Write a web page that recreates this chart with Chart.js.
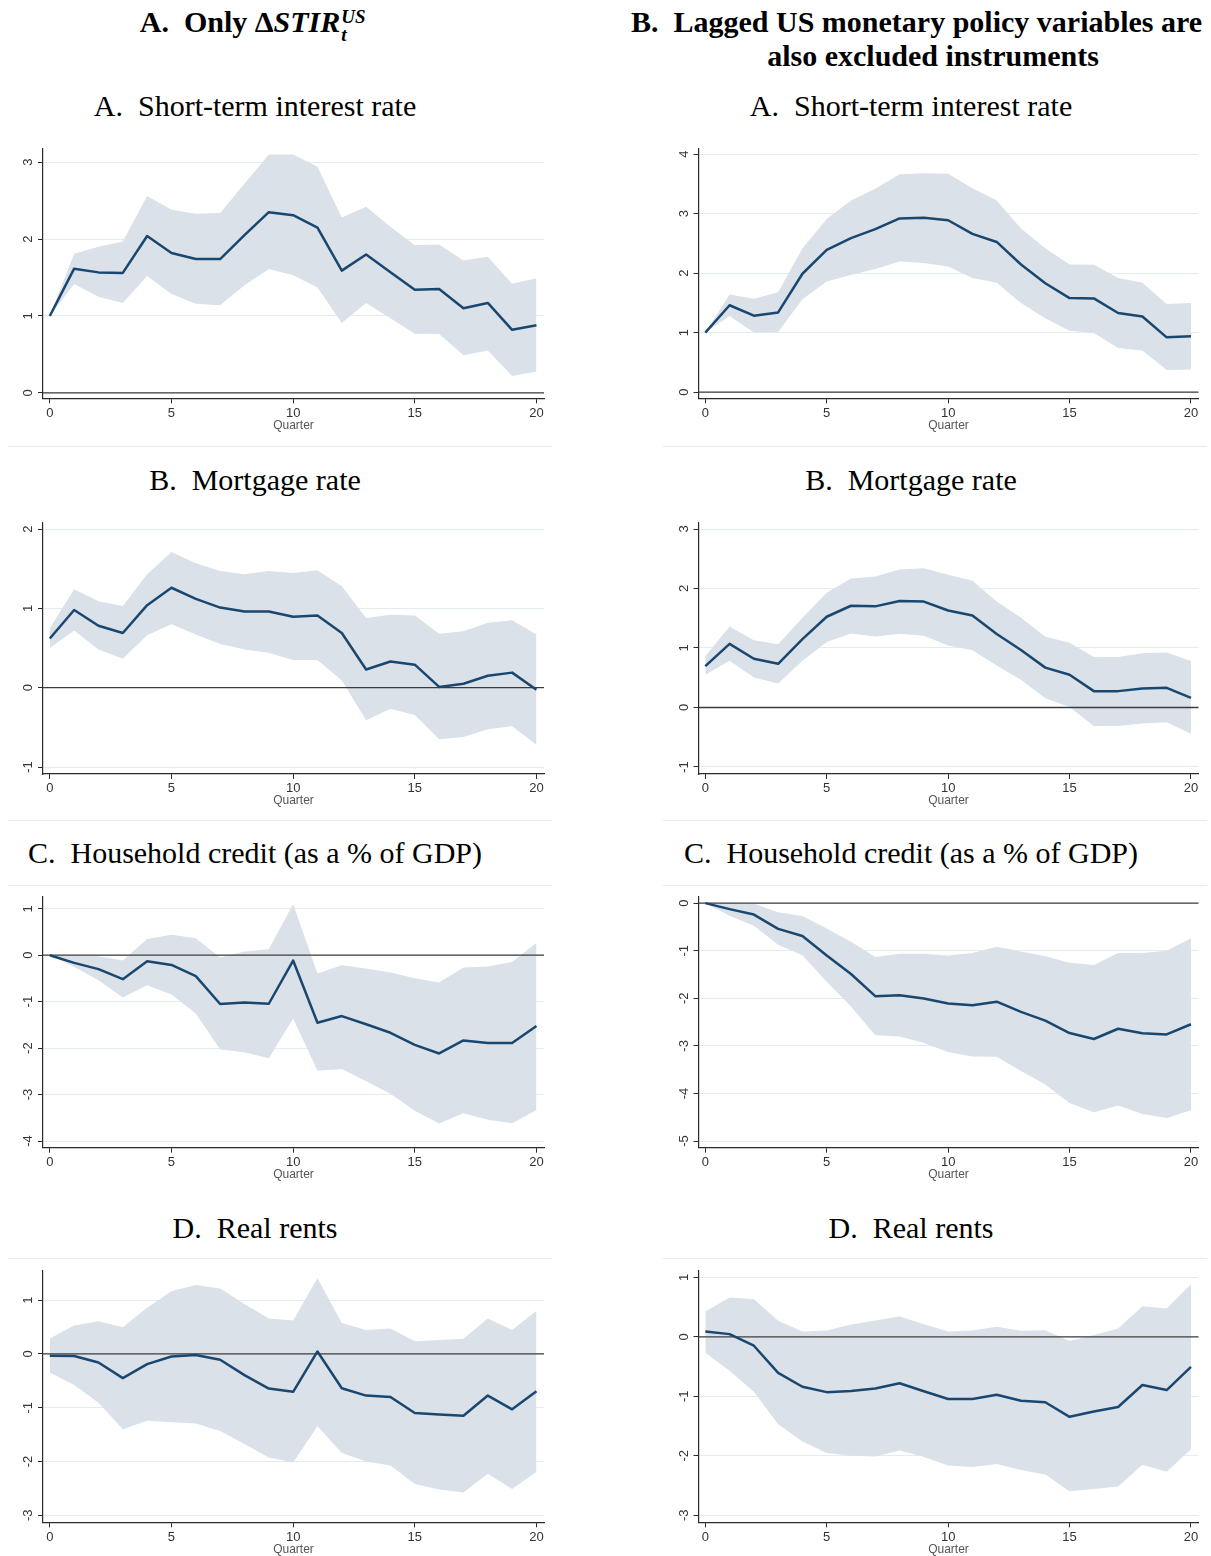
<!DOCTYPE html>
<html>
<head>
<meta charset="utf-8">
<script src="https://cdn.jsdelivr.net/npm/chart.js@4.4.1/dist/chart.umd.min.js"></script>
<style>
  html, body { margin: 0; padding: 0; background: #fff; }
  #page { position: relative; width: 1211px; height: 1556px; overflow: hidden;
          font-family: "Liberation Serif", "Times New Roman", serif; color: #000; }
  .ttl { position: absolute; width: 560px; text-align: center; font-size: 30px;
         line-height: 34px; white-space: nowrap; }
  .hdr { font-weight: bold; }
  .math { font-style: italic; font-weight: bold; }
  .ss { display: inline-block; position: relative; width: 30px; height: 10px; }
  .ss span { position: absolute; left: 1px; font-size: 19px; line-height: 17px;
             font-style: italic; font-weight: bold; }
  .ss .up { bottom: 7px; }
  .ss .dn { top: 4px; }
  canvas { position: absolute; }
  .frame { position: absolute; height: 0; border-top: 1px solid #e4ebf0; }
</style>
</head>
<body>
<div id="page">
  <div class="ttl hdr" style="left:-25px; top:5px;">A.&nbsp; Only Δ<span class="math">STIR</span><span class="ss"><span class="up">US</span><span class="dn">t</span></span></div>
  <div class="ttl hdr" style="left:631px; top:5px;">B.&nbsp; Lagged US monetary policy variables are</div>
  <div class="ttl hdr" style="left:653px; top:39px;">also excluded instruments</div>

  <div class="ttl" style="left:-25px; top:89px;">A.&nbsp; Short-term interest rate</div>
  <div class="ttl" style="left:631px; top:89px;">A.&nbsp; Short-term interest rate</div>
  <div class="ttl" style="left:-25px; top:463px;">B.&nbsp; Mortgage rate</div>
  <div class="ttl" style="left:631px; top:463px;">B.&nbsp; Mortgage rate</div>
  <div class="ttl" style="left:-25px; top:836px;">C.&nbsp; Household credit (as a % of GDP)</div>
  <div class="ttl" style="left:631px; top:836px;">C.&nbsp; Household credit (as a % of GDP)</div>
  <div class="ttl" style="left:-25px; top:1211px;">D.&nbsp; Real rents</div>
  <div class="ttl" style="left:631px; top:1211px;">D.&nbsp; Real rents</div>

  <div class="frame" style="left:8px; width:544px; top:446px;"></div>
  <div class="frame" style="left:663px; width:544px; top:446px;"></div>
  <div class="frame" style="left:8px; width:544px; top:820px;"></div>
  <div class="frame" style="left:663px; width:544px; top:820px;"></div>
  <div class="frame" style="left:8px; width:544px; top:885px;"></div>
  <div class="frame" style="left:663px; width:544px; top:885px;"></div>
  <div class="frame" style="left:8px; width:544px; top:1258px;"></div>
  <div class="frame" style="left:663px; width:544px; top:1258px;"></div>
</div>

<script>
// Horizon (quarters after the shock) and x-axis ticks
const quarters = [0, 1, 2, 3, 4, 5, 6, 7, 8, 9, 10, 11, 12, 13, 14, 15, 16, 17, 18, 19, 20];
const xTicks = [0, 5, 10, 15, 20];

// Column A: only ΔSTIR as instrument
const onlyStirMid = [1.00, 1.615, 1.567, 1.56, 2.04, 1.82, 1.74, 1.74, 2.05, 2.35, 2.31, 2.15, 1.59, 1.80, 1.57, 1.34, 1.35, 1.10, 1.17, 0.82, 0.88];
const onlyStirHi  = [1.00, 1.81, 1.90, 1.97, 2.56, 2.38, 2.33, 2.34, 2.72, 3.10, 3.10, 2.94, 2.28, 2.42, 2.16, 1.92, 1.93, 1.72, 1.77, 1.42, 1.49];
const onlyStirLo  = [1.00, 1.415, 1.25, 1.17, 1.52, 1.285, 1.16, 1.14, 1.40, 1.61, 1.53, 1.37, 0.91, 1.17, 0.97, 0.77, 0.765, 0.49, 0.55, 0.22, 0.28];

const onlyMortMid = [0.62, 0.98, 0.78, 0.69, 1.04, 1.26, 1.12, 1.01, 0.96, 0.96, 0.895, 0.91, 0.69, 0.23, 0.33, 0.29, 0.01, 0.05, 0.15, 0.19, -0.025];
const onlyMortHi  = [0.75, 1.24, 1.09, 1.03, 1.43, 1.71, 1.57, 1.47, 1.43, 1.47, 1.445, 1.48, 1.28, 0.88, 0.92, 0.91, 0.68, 0.71, 0.82, 0.85, 0.67];
const onlyMortLo  = [0.50, 0.72, 0.48, 0.365, 0.66, 0.80, 0.67, 0.55, 0.48, 0.44, 0.35, 0.35, 0.09, -0.41, -0.265, -0.345, -0.65, -0.62, -0.525, -0.485, -0.72];

const onlyCreditMid = [0, -0.165, -0.30, -0.515, -0.13, -0.21, -0.45, -1.05, -1.02, -1.045, -0.115, -1.455, -1.31, -1.485, -1.67, -1.93, -2.115, -1.835, -1.89, -1.89, -1.525];
const onlyCreditHi  = [0, 0.0, -0.02, -0.115, 0.35, 0.44, 0.365, -0.05, 0.08, 0.13, 1.10, -0.395, -0.215, -0.285, -0.37, -0.495, -0.59, -0.265, -0.245, -0.145, 0.27];
const onlyCreditLo  = [0, -0.25, -0.54, -0.91, -0.645, -0.845, -1.255, -2.03, -2.09, -2.22, -1.36, -2.49, -2.45, -2.715, -2.98, -3.35, -3.625, -3.40, -3.54, -3.62, -3.33];

const onlyRentMid = [-0.035, -0.04, -0.16, -0.45, -0.19, -0.05, -0.02, -0.11, -0.395, -0.645, -0.705, 0.045, -0.64, -0.775, -0.80, -1.10, -1.125, -1.15, -0.775, -1.03, -0.695];
const onlyRentHi  = [0.285, 0.525, 0.605, 0.495, 0.855, 1.165, 1.28, 1.215, 0.925, 0.655, 0.62, 1.405, 0.575, 0.445, 0.47, 0.235, 0.26, 0.28, 0.655, 0.445, 0.80];
const onlyRentLo  = [-0.345, -0.58, -0.91, -1.40, -1.245, -1.27, -1.295, -1.435, -1.675, -1.925, -2.02, -1.345, -1.84, -2.0, -2.075, -2.42, -2.52, -2.575, -2.23, -2.51, -2.19];

// Column B: lagged US monetary policy variables also excluded
const laggedStirMid = [1.00, 1.46, 1.285, 1.34, 1.99, 2.39, 2.59, 2.74, 2.92, 2.93, 2.89, 2.66, 2.525, 2.145, 1.83, 1.58, 1.575, 1.33, 1.27, 0.92, 0.94];
const laggedStirHi  = [1.00, 1.64, 1.57, 1.68, 2.42, 2.91, 3.22, 3.42, 3.665, 3.68, 3.67, 3.43, 3.22, 2.75, 2.42, 2.145, 2.14, 1.92, 1.84, 1.48, 1.50];
const laggedStirLo  = [1.00, 1.28, 1.00, 1.01, 1.56, 1.86, 1.97, 2.07, 2.195, 2.17, 2.11, 1.92, 1.84, 1.50, 1.24, 1.03, 0.995, 0.74, 0.70, 0.37, 0.38];

const laggedMortMid = [0.695, 1.07, 0.82, 0.735, 1.15, 1.525, 1.71, 1.70, 1.79, 1.78, 1.63, 1.545, 1.235, 0.965, 0.67, 0.55, 0.275, 0.275, 0.32, 0.33, 0.16];
const laggedMortHi  = [0.86, 1.36, 1.13, 1.065, 1.51, 1.93, 2.17, 2.20, 2.32, 2.34, 2.23, 2.13, 1.78, 1.51, 1.19, 1.09, 0.85, 0.85, 0.91, 0.925, 0.78];
const laggedMortLo  = [0.55, 0.785, 0.505, 0.405, 0.785, 1.10, 1.245, 1.195, 1.24, 1.205, 1.04, 0.96, 0.705, 0.465, 0.155, 0.01, -0.31, -0.31, -0.27, -0.25, -0.44];

const laggedCreditMid = [0, -0.125, -0.24, -0.54, -0.69, -1.10, -1.49, -1.955, -1.935, -2.005, -2.11, -2.145, -2.07, -2.285, -2.47, -2.73, -2.855, -2.64, -2.735, -2.76, -2.545];
const laggedCreditHi  = [0, 0.0, -0.01, -0.19, -0.27, -0.53, -0.81, -1.13, -1.065, -1.065, -1.10, -1.05, -0.915, -1.015, -1.115, -1.25, -1.30, -1.045, -1.045, -1.00, -0.735];
const laggedCreditLo  = [0, -0.265, -0.475, -0.875, -1.095, -1.65, -2.17, -2.775, -2.805, -2.94, -3.13, -3.225, -3.23, -3.53, -3.81, -4.20, -4.395, -4.255, -4.43, -4.515, -4.355];

const laggedRentMid = [0.09, 0.045, -0.15, -0.605, -0.84, -0.93, -0.91, -0.87, -0.78, -0.915, -1.045, -1.045, -0.975, -1.075, -1.10, -1.345, -1.255, -1.18, -0.81, -0.895, -0.505];
const laggedRentHi  = [0.425, 0.66, 0.63, 0.27, 0.09, 0.105, 0.205, 0.275, 0.34, 0.21, 0.09, 0.105, 0.17, 0.10, 0.11, -0.07, 0.03, 0.14, 0.515, 0.475, 0.885];
const laggedRentLo  = [-0.27, -0.57, -0.925, -1.47, -1.76, -1.955, -2.0, -2.01, -1.91, -2.02, -2.165, -2.19, -2.14, -2.24, -2.315, -2.595, -2.56, -2.515, -2.15, -2.27, -1.89];

// y-axis tick labels per panel
const onlyStirTicks     = [0, 1, 2, 3];
const laggedStirTicks   = [0, 1, 2, 3, 4];
const onlyMortTicks     = [-1, 0, 1, 2];
const laggedMortTicks   = [-1, 0, 1, 2, 3];
const onlyCreditTicks   = [-4, -3, -2, -1, 0, 1];
const laggedCreditTicks = [-5, -4, -3, -2, -1, 0];
const onlyRentTicks     = [-3, -2, -1, 0, 1];
const laggedRentTicks   = [-3, -2, -1, 0, 1];

// Page layout of the eight graphs (pixels)
const columns = [
  { left: 0,   axisX: 43,    right: 544 },
  { left: 655, axisX: 698.5, right: 1198.5 }
];
const rows = [
  { top: 148.3, axisY: 398.3 },
  { top: 522.7, axisY: 774 },
  { top: 896.5, axisY: 1147.7 },
  { top: 1271,  axisY: 1522.3 }
];

const panels = [
  { col: 0, row: 0, mid: onlyStirMid,   hi: onlyStirHi,   lo: onlyStirLo,   ticks: onlyStirTicks,   yMin: -0.07,  yMax: 3.18 },
  { col: 1, row: 0, mid: laggedStirMid, hi: laggedStirHi, lo: laggedStirLo, ticks: laggedStirTicks, yMin: -0.105, yMax: 4.10 },
  { col: 0, row: 1, mid: onlyMortMid,   hi: onlyMortHi,   lo: onlyMortLo,   ticks: onlyMortTicks,   yMin: -1.088, yMax: 2.08 },
  { col: 1, row: 1, mid: laggedMortMid, hi: laggedMortHi, lo: laggedMortLo, ticks: laggedMortTicks, yMin: -1.118, yMax: 3.106 },
  { col: 0, row: 2, mid: onlyCreditMid,   hi: onlyCreditHi,   lo: onlyCreditLo,   ticks: onlyCreditTicks,   yMin: -4.144, yMax: 1.264 },
  { col: 1, row: 2, mid: laggedCreditMid, hi: laggedCreditHi, lo: laggedCreditLo, ticks: laggedCreditTicks, yMin: -5.14,  yMax: 0.14 },
  { col: 0, row: 3, mid: onlyRentMid,   hi: onlyRentHi,   lo: onlyRentLo,   ticks: onlyRentTicks,   yMin: -3.13,  yMax: 1.54 },
  { col: 1, row: 3, mid: laggedRentMid, hi: laggedRentHi, lo: laggedRentLo, ticks: laggedRentTicks, yMin: -3.118, yMax: 1.106 }
];

const AXIS_COLOR = '#2b2b2b';
const GRID_COLOR = '#e3ebef';
const BAND_COLOR = '#dae1e8';
const LINE_COLOR = '#1a476f';
const SANS = '"Liberation Sans", Arial, sans-serif';

// Zero reference line (between band and point estimate) and vertical y tick labels
const irfDecor = {
  id: 'irfDecor',
  afterDatasetDraw(chart, args) {
    if (args.index !== 1) return;
    const { ctx, chartArea } = chart;
    const y = chart.scales.y.getPixelForValue(0);
    ctx.save();
    ctx.strokeStyle = '#3c3c3c';
    ctx.lineWidth = 1.3;
    ctx.beginPath();
    ctx.moveTo(chartArea.left, y);
    ctx.lineTo(chartArea.right, y);
    ctx.stroke();
    ctx.restore();
  },
  afterDraw(chart) {
    const s = chart.scales.y;
    const ctx = chart.ctx;
    ctx.save();
    ctx.fillStyle = '#333';
    ctx.font = '13px ' + SANS;
    ctx.textAlign = 'center';
    ctx.textBaseline = 'middle';
    s.ticks.forEach(t => {
      const y = s.getPixelForValue(t.value);
      ctx.save();
      ctx.translate(s.right - 14.5, y);
      ctx.rotate(-Math.PI / 2);
      ctx.fillText(String(t.value), 0, 0);
      ctx.restore();
    });
    ctx.restore();
  }
};

const page = document.getElementById('page');
const toXY = arr => quarters.map((q, i) => ({ x: q, y: arr[i] }));

panels.forEach(p => {
  const col = columns[p.col];
  const row = rows[p.row];
  const cTop = Math.floor(row.top - 10);
  const cBottom = Math.min(1556, Math.ceil(row.axisY + 33));
  const cWidth = 556;
  const cHeight = cBottom - cTop;

  const canvas = document.createElement('canvas');
  canvas.width = cWidth;
  canvas.height = cHeight;
  canvas.style.left = col.left + 'px';
  canvas.style.top = cTop + 'px';
  canvas.style.width = cWidth + 'px';
  canvas.style.height = cHeight + 'px';
  page.appendChild(canvas);

  const yAxisWidth = col.axisX - col.left;
  const xAxisHeight = cBottom - row.axisY;

  new Chart(canvas, {
    type: 'line',
    data: {
      datasets: [
        { data: toXY(p.mid), borderColor: LINE_COLOR, borderWidth: 2.5, pointRadius: 0,
          fill: false, tension: 0, borderJoinStyle: 'round' },
        { data: toXY(p.hi), borderWidth: 0, borderColor: 'rgba(0,0,0,0)', pointRadius: 0,
          backgroundColor: BAND_COLOR, fill: '+1', tension: 0 },
        { data: toXY(p.lo), borderWidth: 0, borderColor: 'rgba(0,0,0,0)', pointRadius: 0,
          fill: false, tension: 0 }
      ]
    },
    options: {
      responsive: false,
      animation: false,
      devicePixelRatio: 1,
      layout: { padding: { top: row.top - cTop, right: cWidth - (col.right - col.left), bottom: 0, left: 0 } },
      plugins: { legend: { display: false }, tooltip: { enabled: false } },
      scales: {
        x: {
          type: 'linear',
          min: -0.28,
          max: 20.31,
          afterBuildTicks: s => { s.ticks = xTicks.map(v => ({ value: v })); },
          afterFit: s => { s.height = xAxisHeight; },
          ticks: { color: '#333', font: { family: SANS, size: 13 }, padding: 2, maxRotation: 0 },
          grid: { display: true, drawOnChartArea: false, drawTicks: true, tickLength: 5, tickColor: AXIS_COLOR },
          border: { display: true, color: AXIS_COLOR, width: 1.2 },
          title: { display: true, text: 'Quarter', color: '#555', font: { family: SANS, size: 12, lineHeight: 1 },
                   padding: { top: 0, bottom: 0 } }
        },
        y: {
          type: 'linear',
          min: p.yMin,
          max: p.yMax,
          afterBuildTicks: s => { s.ticks = p.ticks.map(v => ({ value: v })); },
          afterFit: s => { s.width = yAxisWidth; },
          ticks: { display: false },
          grid: { display: true, color: GRID_COLOR, lineWidth: 1, drawTicks: true, tickLength: 5, tickColor: AXIS_COLOR },
          border: { display: true, color: AXIS_COLOR, width: 1.2 }
        }
      }
    },
    plugins: [irfDecor]
  });
});
</script>
</body>
</html>
